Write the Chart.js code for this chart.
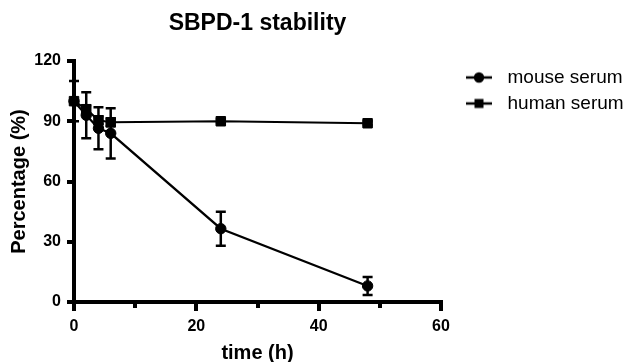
<!DOCTYPE html>
<html>
<head>
<meta charset="utf-8">
<title>SBPD-1 stability</title>
<script src="https://cdn.jsdelivr.net/npm/chart.js@4.4.1/dist/chart.umd.min.js"></script>
<style>
    html, body { margin: 0; padding: 0; background: #fff; }
    #wrap { width: 625px; height: 362px; }
</style>
</head>
<body>
<div id="wrap"><canvas id="myChart" width="625" height="362"></canvas></div>
<script>
// time points (h) and % remaining
const timePoints = [0, 2, 4, 6, 24, 48];
const mouseSerum = [100, 93, 86.5, 84, 36.5, 8];
const mouseErr = [10, 11.5, 10.5, 12.5, 8.5, 4.5];
const humanSerum = [100, 96, 90.5, 89.5, 90, 89];
const humanErr = [0, 2, 2, 2, 1, 1];

const xTicks = [0, 20, 40, 60];
const xMinorTicks = [10, 30, 50];
const yTicks = [0, 30, 60, 90, 120];

Chart.defaults.font.family = "'Liberation Sans', Arial, Helvetica, sans-serif";
Chart.defaults.color = '#000';

function toPoints(values) {
    return timePoints.map((t, i) => ({ x: t, y: values[i] }));
}

// little line + marker picture for the legend
function makeMarker(style) {
    const c = document.createElement('canvas');
    c.width = 50;
    c.height = 14;
    const g = c.getContext('2d');
    g.strokeStyle = '#000';
    g.fillStyle = '#000';
    g.lineWidth = 2.5;
    g.beginPath();
    g.moveTo(18, 7);
    g.lineTo(44, 7);
    g.stroke();
    if (style === 'circle') {
        g.beginPath();
        g.arc(31, 7, 5.2, 0, Math.PI * 2);
        g.fill();
    } else {
        g.fillRect(26.5, 2.5, 9, 9);
    }
    return c;
}

const legendMarkers = [makeMarker('circle'), makeMarker('rect')];

const errorBars = {
    id: 'errorBars',
    beforeDatasetsDraw(chart) {
        const { ctx } = chart;
        const y = chart.scales.y;
        ctx.save();
        ctx.strokeStyle = '#000';
        ctx.lineWidth = 2.5;
        chart.data.datasets.forEach((ds, i) => {
            const meta = chart.getDatasetMeta(i);
            meta.data.forEach((pt, j) => {
                const v = ds.data[j].y;
                const e = ds.errors[j];
                if (!e) return;
                const top = y.getPixelForValue(v + e);
                const bot = y.getPixelForValue(v - e);
                ctx.beginPath();
                ctx.moveTo(pt.x, top);
                ctx.lineTo(pt.x, bot);
                ctx.moveTo(pt.x - 5, top);
                ctx.lineTo(pt.x + 5, top);
                ctx.moveTo(pt.x - 5, bot);
                ctx.lineTo(pt.x + 5, bot);
                ctx.stroke();
            });
        });
        ctx.restore();
    }
};

// axis lines + minor ticks, drawn thick like the prism style
const axesDraw = {
    id: 'axesDraw',
    afterDraw(chart) {
        const { ctx, chartArea } = chart;
        const x = chart.scales.x;
        const left = Math.round(chartArea.left);
        const bottom = Math.round(chartArea.bottom);
        ctx.save();
        ctx.strokeStyle = '#000';
        ctx.lineWidth = 4;
        ctx.lineCap = 'square';
        ctx.beginPath();
        ctx.moveTo(left, Math.round(chartArea.top));
        ctx.lineTo(left, bottom);
        ctx.lineTo(Math.round(chartArea.right), bottom);
        ctx.stroke();
        ctx.lineCap = 'butt';
        xMinorTicks.forEach(v => {
            const px = Math.round(x.getPixelForValue(v));
            ctx.beginPath();
            ctx.moveTo(px, bottom);
            ctx.lineTo(px, bottom + 6);
            ctx.stroke();
        });
        ctx.restore();
    }
};

const ctx = document.getElementById('myChart').getContext('2d');

const myChart = new Chart(ctx, {
    type: 'line',
    data: {
        datasets: [
            {
                label: 'mouse serum',
                data: toPoints(mouseSerum),
                errors: mouseErr,
                borderColor: '#000',
                backgroundColor: '#000',
                borderWidth: 2.2,
                pointStyle: 'circle',
                pointRadius: 5.2,
                pointBorderWidth: 1,
                clip: false
            },
            {
                label: 'human serum',
                data: toPoints(humanSerum),
                errors: humanErr,
                borderColor: '#000',
                backgroundColor: '#000',
                borderWidth: 2.2,
                pointStyle: 'rect',
                pointRadius: 6.7,
                pointBorderWidth: 1,
                clip: false
            }
        ]
    },
    options: {
        responsive: false,
        animation: false,
        events: [],
        layout: { padding: 0 },
        plugins: {
            title: {
                display: true,
                text: 'SBPD-1 stability',
                fullSize: false,
                color: '#000',
                font: { size: 23, weight: 'bold' },
                padding: { top: 10, bottom: 23.4 }
            },
            legend: {
                position: 'right',
                align: 'start',
                fullSize: false,
                maxWidth: 184,
                labels: {
                    usePointStyle: true,
                    pointStyleWidth: 50,
                    padding: 7,
                    color: '#000',
                    font: { size: 19 },
                    generateLabels(chart) {
                        const items = Chart.defaults.plugins.legend.labels.generateLabels(chart);
                        items.forEach((item, i) => {
                            item.pointStyle = legendMarkers[i];
                        });
                        return items;
                    }
                }
            },
            tooltip: { enabled: false }
        },
        scales: {
            x: {
                type: 'linear',
                min: 0,
                max: 60,
                afterBuildTicks: scale => {
                    scale.ticks = xTicks.map(v => ({ value: v }));
                },
                afterFit: scale => {
                    scale.height = 60;
                },
                border: { display: false },
                grid: {
                    drawOnChartArea: false,
                    drawTicks: true,
                    tickLength: 9,
                    lineWidth: 4,
                    tickWidth: 4,
                    tickColor: '#000'
                },
                ticks: {
                    color: '#000',
                    font: { size: 16, weight: 'bold' },
                    padding: 6,
                    maxRotation: 0
                },
                title: {
                    display: true,
                    text: 'time (h)',
                    color: '#000',
                    font: { size: 20, weight: 'bold', lineHeight: 1 },
                    padding: { top: 0, bottom: -1 }
                }
            },
            y: {
                min: 0,
                max: 120,
                afterBuildTicks: scale => {
                    scale.ticks = yTicks.map(v => ({ value: v }));
                },
                afterFit: scale => {
                    scale.width = 74;
                },
                border: { display: false },
                grid: {
                    drawOnChartArea: false,
                    drawTicks: true,
                    tickLength: 7,
                    lineWidth: 4,
                    tickWidth: 4,
                    tickColor: '#000'
                },
                ticks: {
                    color: '#000',
                    font: { size: 16, weight: 'bold' },
                    padding: 6
                },
                title: {
                    display: true,
                    text: 'Percentage (%)',
                    color: '#000',
                    font: { size: 20, weight: 'bold' },
                    padding: { top: 7, bottom: 0 }
                }
            }
        }
    },
    plugins: [errorBars, axesDraw]
});
</script>
</body>
</html>
